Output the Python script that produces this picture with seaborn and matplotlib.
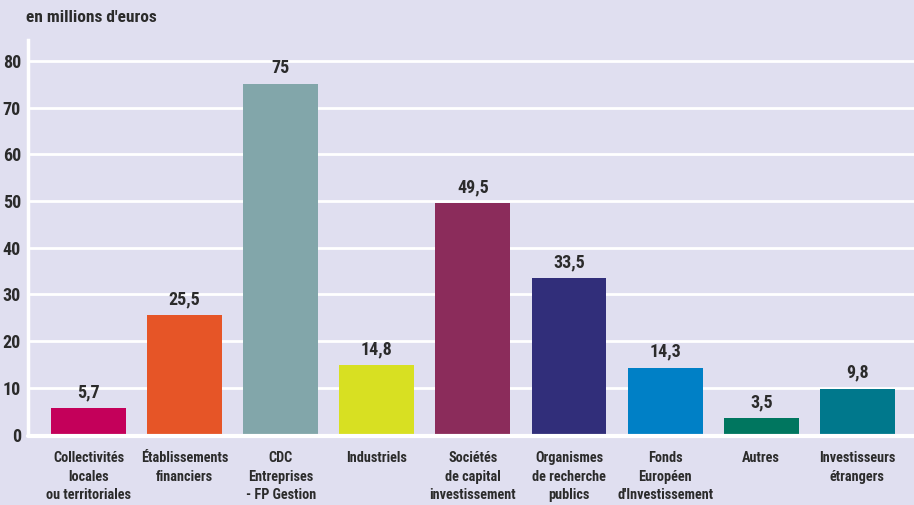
import matplotlib
matplotlib.use("Agg")
import matplotlib.pyplot as plt
import seaborn as sns
import pandas as pd

categories = ["Collectivités\nlocales\nou territoriales", "Établissements\nfinanciers",
              "CDC\nEntreprises\n- FP Gestion", "Industriels", "Sociétés\nde capital\ninvestissement",
              "Organismes\nde recherche\npublics", "Fonds\nEuropéen\nd'Investissement", "Autres",
              "Investisseurs\nétrangers"]
values = [5.7, 25.5, 75, 14.8, 49.5, 33.5, 14.3, 3.5, 9.8]
value_labels = ["5,7", "25,5", "75", "14,8", "49,5", "33,5", "14,3", "3,5", "9,8"]
colors = ["#c4005a", "#e65527", "#82a6aa", "#d8e022", "#8b2c5b",
          "#312e7a", "#0080c6", "#00765f", "#00788c"]
yticks = [0, 10, 20, 30, 40, 50, 60, 70, 80]

BG = "#e0dff0"
TXT = "#2b2b2b"

sns.set_theme(style="white")
plt.rcParams['font.family'] = ['Roboto Condensed', 'Barlow Condensed', 'DejaVu Sans']
plt.rcParams['font.weight'] = 'bold'

fig = plt.figure(figsize=(9.14, 5.05), dpi=100, facecolor=BG)
ax = fig.add_axes([28/914, 1 - 434.5/505, (914-28)/914, (434.5-40)/505])
ax.set_facecolor(BG)

df = pd.DataFrame({"cat": categories, "val": values})
sns.barplot(data=df, x="cat", y="val", hue="cat", palette=colors, legend=False,
            width=0.78, saturation=1, linewidth=0, ax=ax, zorder=2)

ax.set_xlim(-0.63, 8.59)
ax.set_ylim(0, 80 * (434.5 - 40) / (434.5 - 61))
ax.set_yticks(yticks)
ax.set_yticklabels([str(t) for t in yticks], fontsize=13, color=TXT, fontweight='bold')
for t in yticks[1:]:
    ax.axhline(t, color="white", lw=2, zorder=1)
ax.axhline(-0.3, color="white", lw=3, zorder=3, clip_on=False)

for s in ["top", "right", "bottom"]:
    ax.spines[s].set_visible(False)
ax.spines["left"].set_color("white")
ax.spines["left"].set_linewidth(2.5)
ax.tick_params(axis="y", length=0, pad=5)
ax.tick_params(axis="x", length=0, pad=12)
ax.set_xlabel("")
ax.set_ylabel("")
ax.set_xticks(range(len(categories)))
ax.set_xticklabels(categories, fontsize=10.3, color=TXT, fontweight='bold',
                   linespacing=1.4, va="top")

for i, (v, lab) in enumerate(zip(values, value_labels)):
    ax.annotate(lab, (i, v), xytext=(0, 5), textcoords="offset points",
                ha="center", va="bottom", fontsize=13, color=TXT, fontweight='bold')

fig.text(26/914, 1 - 17/505, "en millions d'euros", fontsize=12.5, color=TXT,
         fontweight='bold', ha="left", va="center")

fig.savefig("out.png", dpi=100, facecolor=BG)
